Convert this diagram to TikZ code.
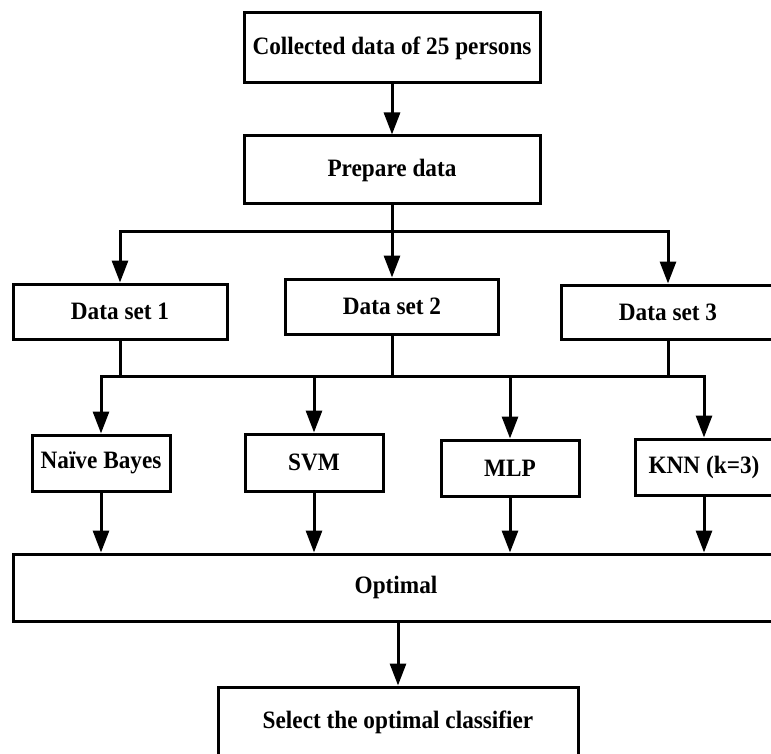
\documentclass[tikz,border=0pt]{standalone}
\usepackage{fontspec}
\setmainfont[FakeStretch=0.93]{Liberation Serif}
\usetikzlibrary{arrows.meta}

\begin{document}
\begin{tikzpicture}[x=1pt, y=-1pt, line width=3pt,
    main/.style = {draw, rectangle, inner sep=0pt, font=\bfseries\fontsize{25}{29}\selectfont},
    arr/.style = {-{Triangle[length=22pt,width=16pt]}}]
    \clip (0,0) rectangle (771,754);
    \node[main, minimum width=296, minimum height=70] (collect) at (392,48) {Collected data of 25 persons};
    \node[main, minimum width=296, minimum height=68] (prep) at (392,170) {Prepare data};
    \node[main, minimum width=214, minimum height=55] (set1) at (120,311.5) {Data set 1};
    \node[main, minimum width=213, minimum height=55] (set2) at (392,306.5) {Data set 2};
    \node[main, minimum width=214, minimum height=54] (set3) at (668,312) {Data set 3};
    \node[main, minimum width=138, minimum height=56] (nb) at (101,463) {Naïve Bayes};
    \node[main, minimum width=138, minimum height=57] (svm) at (314,462.5) {SVM};
    \node[main, minimum width=138, minimum height=56] (mlp) at (510,468) {MLP};
    \node[main, minimum width=138, minimum height=56] (knn) at (704,467) {KNN (k=3)};
    \node[main, minimum width=766, minimum height=67] (opt) at (396,587.5) {Optimal};
    \node[main, minimum width=360, minimum height=70] (select) at (398,722) {Select the optimal classifier};

    \coordinate (split) at (392,232);
    \coordinate (join) at (392,376);

    \draw[arr] (collect) -- (prep);
    \draw (prep) -- (split);
    \draw[arr] (split) -| (set1);
    \draw[arr] (split) -- (set2);
    \draw[arr] (split) -| (set3);
    \draw (set1) |- (join);
    \draw (set2) -- (join);
    \draw (set3) |- (join);
    \draw[arr] (join) -| (nb);
    \draw[arr] (join) -| (svm);
    \draw[arr] (join) -| (mlp);
    \draw[arr] (join) -| (knn);
    \draw[arr] (nb) -- (nb |- opt.north);
    \draw[arr] (svm) -- (svm |- opt.north);
    \draw[arr] (mlp) -- (mlp |- opt.north);
    \draw[arr] (knn) -- (knn |- opt.north);
    \draw[arr] (opt.south -| select.north) -- (select);
\end{tikzpicture}
\end{document}
